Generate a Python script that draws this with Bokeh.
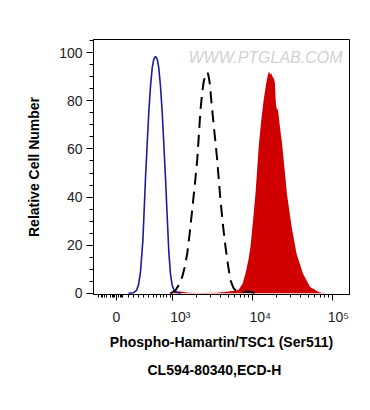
from bokeh.plotting import figure
from bokeh.models import Range1d, FixedTicker, SingleIntervalTicker, Label, Title
from bokeh.embed import file_html
from bokeh.resources import INLINE
import math

# x values are display positions in decades on the biexponential axis (3 = 10^3)
blue_x = [2.45, 2.51, 2.55, 2.575, 2.60, 2.63, 2.6625, 2.685, 2.704, 2.725, 2.746, 2.765,
          2.7875, 2.81, 2.829, 2.85, 2.871, 2.89, 2.9125, 2.935, 2.954, 2.975, 2.996, 3.02, 3.05, 3.1]
blue_y = [0, 0.2, 1.2, 3.5, 8.9, 22, 47.9, 63, 75.5, 86, 93.6, 97.2,
          98.5, 97.2, 93.6, 86, 75.5, 63, 47.9, 31, 17.2, 8, 3.3, 1.2, 0.4, 0]

black_x = [2.975, 3.0375, 3.08, 3.121, 3.15, 3.184, 3.215, 3.246, 3.28, 3.309, 3.33, 3.35,
           3.37, 3.39, 3.41, 3.425, 3.44, 3.45, 3.465, 3.48, 3.496, 3.53, 3.559, 3.58, 3.6,
           3.63, 3.6625, 3.695, 3.725, 3.76, 3.7875, 3.83, 3.88, 3.93, 3.97, 4.02, 4.06]
black_y = [0, 1.25, 3.5, 6.8, 10.5, 16.5, 25, 34.6, 45.5, 55.4, 66, 76.3,
           83, 88, 90.5, 91.8, 91.5, 90.5, 87.5, 82, 76.3, 65, 55.4, 46.5, 38.8,
           28.5, 19.3, 11.5, 5.4, 2.4, 1.25, 0.5, 0.4, 0.7, 0.6, 0.2, 0]

red_x = [2.95, 3.0, 3.06, 3.12, 3.2, 3.35, 3.55, 3.65, 3.72, 3.78, 3.83, 3.875, 3.9125,
         3.95, 3.975, 4.0, 4.0375, 4.08, 4.11, 4.14, 4.17, 4.19, 4.205, 4.22, 4.235, 4.25,
         4.265, 4.28, 4.29, 4.30, 4.32, 4.34, 4.37, 4.40, 4.43, 4.49, 4.55, 4.63, 4.72, 4.84, 4.92]
red_y = [0, 0.5, 0.9, 0.6, 0.2, 0.1, 0.2, 0.5, 0.9, 1.1, 1.6, 4.0, 8.2,
         14.0, 19.3, 28.0, 41.5, 62.0, 72.0, 80.5, 87.0, 90.5, 92.3, 91.0, 91.5, 90.0,
         89.5, 87.5, 80.0, 77.0, 76.0, 70.0, 62.0, 52.0, 41.5, 27.5, 16.5, 8.2, 2.6, 0.3, 0]

x_major = [2.3, 3, 4, 5]
x_labels = ["0", "\u00a0\u00a0\u00a0\u00a010³", "\u00a0\u00a0\u00a0\u00a010⁴", "\u00a0\u00a0\u00a010⁵"]
x_minor_low = [2.075, 2.1125, 2.131, 2.15, 2.169, 2.225, 2.244, 2.2625, 2.281, 2.325, 2.344,
               2.3625, 2.381, 2.45, 2.5125, 2.575, 2.6375, 2.7, 2.7625, 2.804, 2.846, 2.8875,
               2.929, 2.971]

FONT = "Liberation Sans"

p = figure(width=354, height=394, output_backend="svg", toolbar_location=None,
           x_range=Range1d(2.0125, 5.2125), y_range=Range1d(-0.5, 105.5),
           min_border_left=93, min_border_right=5, min_border_top=39, min_border_bottom=100,
           background_fill_color="white", border_fill_color="white")

p.varea(x=red_x, y1=0, y2=red_y, fill_color="#d10000")
p.line(blue_x, blue_y, line_color="#1c1c9e", line_width=1.6)
p.line(black_x, black_y, line_color="black", line_width=2, line_dash="12 7")

p.xgrid.visible = False
p.ygrid.visible = False
p.outline_line_color = "black"
p.outline_line_width = 1

minor = list(x_minor_low)
for d in (3, 4):
    for k in range(2, 10):
        minor.append(d + math.log10(k))

xa = p.xaxis[0]
xa.ticker = FixedTicker(ticks=x_major, minor_ticks=minor)
xa.major_label_overrides = {t: l for t, l in zip(x_major, x_labels)}
xa.axis_label = "Phospho-Hamartin/TSC1 (Ser511)"

ya = p.yaxis[0]
ya.ticker = SingleIntervalTicker(interval=20, num_minor_ticks=4)
ya.axis_label = "Relative Cell Number"

for ax in (xa, ya):
    ax.axis_line_color = "black"
    ax.major_tick_line_color = "black"
    ax.minor_tick_line_color = "black"
    ax.major_tick_in = 0
    ax.minor_tick_in = 0
    ax.major_label_text_font = FONT
    ax.major_label_text_font_size = "14px"
    ax.major_label_text_color = "#222222"
    ax.axis_label_text_font = FONT
    ax.axis_label_text_font_size = "14px"
    ax.axis_label_text_font_style = "bold"
    ax.axis_label_text_color = "black"

xa.major_tick_out = 6
xa.minor_tick_out = 3
xa.major_label_standoff = 8
xa.axis_label_standoff = 6
ya.major_tick_out = 7
ya.minor_tick_out = 4
ya.major_label_standoff = 4
ya.axis_label_standoff = 14

p.add_layout(Label(x=3.2, y=98, text="WWW.PTGLAB.COM", text_font=FONT,
                   text_font_style="italic", text_font_size="16px",
                   text_color="#d2d2d2", text_baseline="middle"))

p.add_layout(Title(text="CL594-80340,ECD-H", align="left", offset=54,
                   text_font=FONT, text_font_size="14px", text_font_style="bold",
                   text_color="black", standoff=15), "below")

open("out.html", "w").write(file_html(p, INLINE))
